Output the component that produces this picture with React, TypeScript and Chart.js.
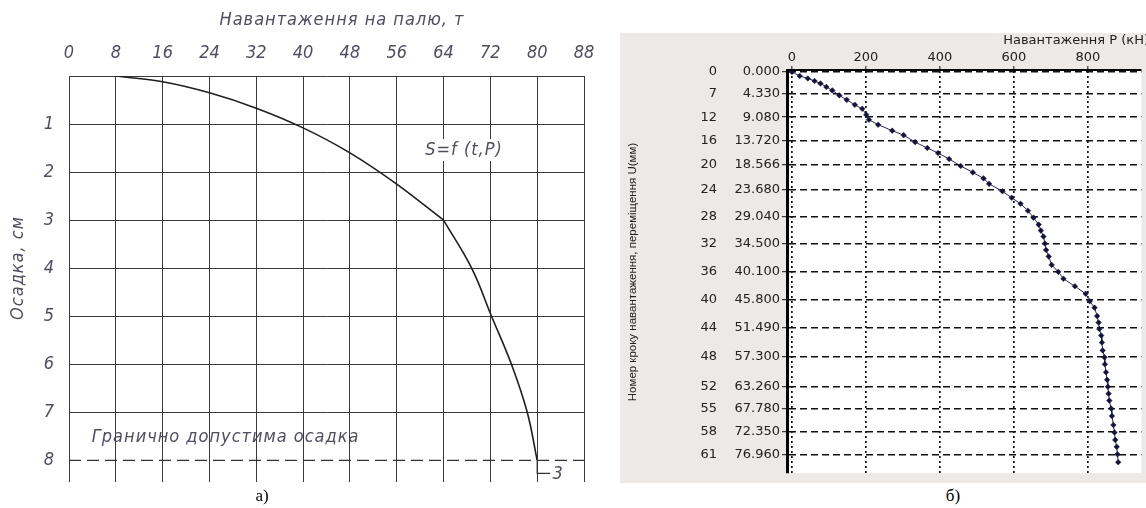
import React, { useEffect, useRef } from 'react';
import { Chart, registerables } from 'chart.js';
Chart.register(...registerables);

// ---------- Chart (а) data ----------
const loadTicksA = [0, 8, 16, 24, 32, 40, 48, 56, 64, 72, 80, 88];
const settleTicksA = [0, 1, 2, 3, 4, 5, 6, 7, 8];
const curveUpperLoad = [8, 16, 24, 32, 40, 48, 56, 64];
const curveUpperSettle = [0, 0.12, 0.35, 0.67, 1.08, 1.6, 2.25, 3.0];
const curveLowerLoad = [64, 68.8, 72.2, 75.6, 78.3, 80];
const curveLowerSettle = [3.0, 4.0, 5.0, 6.0, 7.0, 8.0];
const limitSettle = 8;
const tailLoad = [80, 80, 82.2];
const tailSettle = [8, 8.27, 8.27];
const titleXA = 'Навантаження на палю, т';
const titleYA = 'Осадка, см';
const limitText = 'Гранично допустима осадка';
const curveText = 'S=f (t,P)';
const tailText = '3';

// ---------- Chart (б) data ----------
const stepNumbers = [0, 7, 12, 16, 20, 24, 28, 32, 36, 40, 44, 48, 52, 55, 58, 61];
const stepDispl = [0, 4.33, 9.08, 13.72, 18.566, 23.68, 29.04, 34.5, 40.1, 45.8, 51.49, 57.3, 63.26, 67.78, 72.35, 76.96];
const loadTicksB = [0, 200, 400, 600, 800];
const loadKN = [0, 21, 43, 61, 77, 93, 109, 128, 148, 170, 190, 201, 208, 233, 271, 302, 333, 366, 395, 425,
  456, 489, 518, 533, 569, 594, 618, 638, 653, 667, 673, 680, 684, 687, 694, 702, 720, 734, 765, 794,
  805, 818, 825, 829, 831, 836, 838, 840, 845, 846, 849, 852, 854, 856, 858, 863, 865, 869, 872, 874,
  878, 880, 882];
const displMM = [0, 0.8, 1.3, 1.8, 2.3, 3.0, 3.7, 4.7, 5.6, 6.6, 7.4, 8.6, 9.6, 10.6, 11.8, 12.7, 14.1, 15.3, 16.3, 17.5,
  18.9, 20.2, 21.4, 22.5, 24.0, 25.3, 26.5, 27.9, 29.3, 30.7, 31.9, 33.1, 34.5, 35.8, 37.1, 38.8, 40.2, 41.6, 43.1, 44.6,
  46.1, 47.4, 49.1, 50.4, 51.7, 53.0, 54.4, 56.0, 57.4, 58.8, 60.4, 61.9, 63.3, 64.7, 66.1, 67.7, 69.2, 71.0, 72.5, 74.0,
  75.4, 76.9, 78.5];
const titleXB = 'Навантаження P (кН)';
const titleYB = 'Номер кроку навантаження, переміщення U(мм)';

const GOST = '"Liberation Sans Narrow", "DejaVu Sans Condensed", "Liberation Sans", sans-serif';
const TXT_A = '#4e4e60';
const GRID_A = '#3a3a3a';

const pts = (xs: number[], ys: number[]) => xs.map((x, i) => ({ x, y: ys[i] }));

const textPluginA = {
  id: 'textA',
  afterDatasetsDraw(chart: any) {
    const ctx = chart.ctx;
    const xs = chart.scales.x;
    const ys = chart.scales.y;
    ctx.save();
    ctx.font = `italic 18px ${GOST}`;
    ctx.fillStyle = TXT_A;
    ctx.textBaseline = 'middle';
    (ctx as any).letterSpacing = '1px';
    const sx = xs.getPixelForValue(67.5);
    const sy = ys.getPixelForValue(1.54);
    const w = ctx.measureText(curveText).width;
    ctx.fillStyle = '#fff';
    ctx.fillRect(sx - w / 2 - 3, sy - 11, w + 6, 22);
    ctx.fillStyle = TXT_A;
    ctx.textAlign = 'center';
    ctx.fillText(curveText, sx, sy);
    ctx.textAlign = 'left';
    ctx.fillText(limitText, xs.getPixelForValue(3.9), ys.getPixelForValue(7.52));
    ctx.fillText(tailText, xs.getPixelForValue(82.6), ys.getPixelForValue(8.3));
    ctx.textAlign = 'center';
    ctx.fillText(titleXA, 342, 20);
    ctx.translate(18, 268);
    ctx.rotate(-Math.PI / 2);
    ctx.fillText(titleYA, 0, 0);
    ctx.restore();
  },
};

const textPluginB = {
  id: 'textB',
  beforeDraw(chart: any) {
    const ctx = chart.ctx;
    const a = chart.chartArea;
    ctx.save();
    ctx.fillStyle = '#ece9e6';
    ctx.fillRect(0, 0, chart.width, chart.height);
    ctx.fillStyle = '#ffffff';
    ctx.fillRect(a.left, a.top, a.right - a.left, a.bottom - a.top);
    ctx.restore();
  },
  afterDraw(chart: any) {
    const ctx = chart.ctx;
    const ys = chart.scales.y;
    const a = chart.chartArea;
    ctx.save();
    ctx.strokeStyle = '#000';
    ctx.setLineDash([]);
    ctx.lineWidth = 3;
    ctx.beginPath();
    ctx.moveTo(a.left - 1.5, a.top - 1);
    ctx.lineTo(a.left - 1.5, a.bottom);
    ctx.stroke();
    ctx.lineWidth = 2;
    ctx.beginPath();
    ctx.moveTo(a.left - 3, a.top - 1);
    ctx.lineTo(a.right, a.top - 1);
    ctx.stroke();
    ctx.fillStyle = '#222';
    ctx.font = '13px "DejaVu Sans", sans-serif';
    ctx.textBaseline = 'middle';
    ctx.textAlign = 'right';
    stepNumbers.forEach((n, i) => {
      ctx.fillText(String(n), 97, ys.getPixelForValue(stepDispl[i]));
    });
    ctx.fillText(titleXB, 529, 8);
    ctx.font = '11.5px "Liberation Sans", sans-serif';
    ctx.textAlign = 'center';
    ctx.translate(13, 239);
    ctx.rotate(-Math.PI / 2);
    ctx.fillText(titleYB, 0, 0);
    ctx.restore();
  },
};

export default function App() {
  const refA = useRef<HTMLCanvasElement>(null);
  const refB = useRef<HTMLCanvasElement>(null);

  useEffect(() => {
    const chartA = new Chart(refA.current as HTMLCanvasElement, {
      type: 'scatter',
      data: {
        datasets: [
          {
            data: pts(curveUpperLoad, curveUpperSettle),
            showLine: true,
            borderColor: '#1e1e1e',
            borderWidth: 1.6,
            pointRadius: 0,
            cubicInterpolationMode: 'monotone',
          } as any,
          {
            data: pts(curveLowerLoad, curveLowerSettle),
            showLine: true,
            borderColor: '#1e1e1e',
            borderWidth: 1.6,
            pointRadius: 0,
            tension: 0.4,
          } as any,
          {
            data: [{ x: 0, y: limitSettle }, { x: 88, y: limitSettle }],
            showLine: true,
            borderColor: '#333',
            borderWidth: 1.3,
            borderDash: [12, 6],
            pointRadius: 0,
          },
          {
            data: pts(tailLoad, tailSettle),
            showLine: true,
            borderColor: '#333',
            borderWidth: 1.2,
            pointRadius: 0,
          },
        ],
      },
      options: {
        animation: false,
        responsive: false,
        maintainAspectRatio: false,
        layout: { padding: { left: 0, right: 16, top: 0, bottom: 26 } },
        plugins: { legend: { display: false }, tooltip: { enabled: false } },
        scales: {
          x: {
            type: 'linear',
            position: 'top',
            min: 0,
            max: 88,
            afterBuildTicks: (s: any) => { s.ticks = loadTicksA.map((v) => ({ value: v })); },
            afterFit: (s: any) => { s.height = 76; s.paddingLeft = 0; s.paddingRight = 0; },
            grid: { color: GRID_A, lineWidth: 1, drawTicks: false },
            border: { display: false },
            ticks: {
              autoSkip: false,
              maxRotation: 0,
              padding: 12,
              color: TXT_A,
              font: { family: GOST, size: 18, style: 'italic' },
              callback: (v: any) => String(v),
            },
          },
          y: {
            type: 'linear',
            reverse: true,
            min: 0,
            max: 8.45,
            afterBuildTicks: (s: any) => { s.ticks = settleTicksA.map((v) => ({ value: v })); },
            afterFit: (s: any) => { s.width = 69; s.paddingTop = 0; s.paddingBottom = 0; },
            grid: {
              color: (c: any) => (c.tick && c.tick.value === limitSettle ? 'rgba(0,0,0,0)' : GRID_A),
              lineWidth: 1,
              drawTicks: false,
            },
            border: { display: false },
            ticks: {
              autoSkip: false,
              padding: 15,
              color: TXT_A,
              font: { family: GOST, size: 18, style: 'italic' },
              callback: (v: any) => (v === 0 ? '' : String(v)),
            },
          },
        },
      } as any,
      plugins: [textPluginA],
    });

    const chartB = new Chart(refB.current as HTMLCanvasElement, {
      type: 'scatter',
      data: {
        datasets: [
          {
            data: pts(loadKN, displMM),
            showLine: true,
            borderColor: '#2a2a55',
            borderWidth: 1,
            pointStyle: 'rectRot',
            pointRadius: 2.8,
            pointBackgroundColor: '#14143a',
            pointBorderColor: '#14143a',
            pointBorderWidth: 0.5,
          },
        ],
      },
      options: {
        animation: false,
        responsive: false,
        maintainAspectRatio: false,
        layout: { padding: { left: 0, right: 0, top: 0, bottom: 6 } },
        plugins: { legend: { display: false }, tooltip: { enabled: false } },
        scales: {
          x: {
            type: 'linear',
            position: 'top',
            min: -8,
            max: 945,
            afterBuildTicks: (s: any) => { s.ticks = loadTicksB.map((v) => ({ value: v })); },
            afterFit: (s: any) => { s.height = 38; s.paddingLeft = 0; s.paddingRight = 0; },
            grid: {
              color: '#111',
              lineWidth: 1.7,
              tickLength: 5,
              tickBorderDash: [1, 0],
              tickColor: '#111',
              tickWidth: 1,
            },
            border: { display: false, color: '#000', width: 2, dash: [2, 3] },
            ticks: {
              autoSkip: false,
              maxRotation: 0,
              padding: 1,
              color: '#222',
              font: { family: '"DejaVu Sans", sans-serif', size: 13 },
            },
          },
          y: {
            type: 'linear',
            reverse: true,
            min: -0.2,
            max: 80.7,
            afterBuildTicks: (s: any) => { s.ticks = stepDispl.map((v) => ({ value: v })); },
            afterFit: (s: any) => { s.width = 169; },
            grid: {
              color: '#111',
              lineWidth: 1.4,
              tickLength: 7,
              tickBorderDash: [1, 0],
              tickColor: '#111',
              tickWidth: 1,
            },
            border: { display: false, color: '#000', width: 3, dash: [7, 4] },
            ticks: {
              autoSkip: false,
              padding: 2,
              color: '#222',
              font: { family: '"DejaVu Sans", sans-serif', size: 13 },
              callback: (v: any) => Number(v).toFixed(3),
            },
          },
        },
      } as any,
      plugins: [textPluginB],
    });

    return () => {
      chartA.destroy();
      chartB.destroy();
    };
  }, []);

  return (
    <div style={{ position: 'fixed', left: 0, top: 0, width: 1146, height: 508, background: '#fff', overflow: 'hidden' }}>
      <canvas ref={refA} width={600} height={508} style={{ position: 'absolute', left: 0, top: 0, width: 600, height: 508 }} />
      <canvas ref={refB} width={526} height={450} style={{ position: 'absolute', left: 620, top: 33, width: 526, height: 450 }} />
      <div style={{ position: 'absolute', left: 262, top: 496, transform: 'translate(-50%,-50%)', font: '17px "Liberation Serif", serif', color: '#000', lineHeight: '18px' }}>а)</div>
      <div style={{ position: 'absolute', left: 953, top: 496, transform: 'translate(-50%,-50%)', font: '17px "Liberation Serif", serif', color: '#000', lineHeight: '18px' }}>б)</div>
    </div>
  );
}
